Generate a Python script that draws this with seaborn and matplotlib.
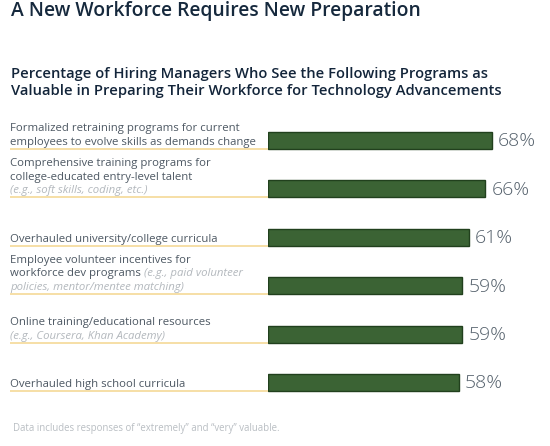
import matplotlib
matplotlib.use("Agg")
import matplotlib.pyplot as plt
import seaborn as sns
import pandas as pd
from matplotlib.transforms import blended_transform_factory

# ---- data ----
programs = [
    "Formalized retraining programs",
    "Comprehensive training programs",
    "Overhauled university/college curricula",
    "Employee volunteer incentives",
    "Online training/educational resources",
    "Overhauled high school curricula",
]
percentages = [68, 66, 61, 59, 59, 58]

label_main = [
    ["Formalized retraining programs for current", "employees to evolve skills as demands change"],
    ["Comprehensive training programs for", "college-educated entry-level talent", ""],
    ["Overhauled university/college curricula"],
    ["Employee volunteer incentives for", "workforce dev programs ", ""],
    ["Online training/educational resources", ""],
    ["Overhauled high school curricula"],
]
label_note = [
    ["", ""],
    ["", "", "(e.g., soft skills, coding, etc.)"],
    [""],
    ["", "(e.g., paid volunteer", "policies, mentor/mentee matching)"],
    ["", "(e.g., Coursera, Khan Academy)"],
    [""],
]

title = "A New Workforce Requires New Preparation"
subtitle = ["Percentage of Hiring Managers Who See the Following Programs as",
            "Valuable in Preparing Their Workforce for Technology Advancements"]
footnote = "Data includes responses of \u201cextremely\u201d and \u201cvery\u201d valuable."

# ---- style ----
sns.set_theme(style="white")
plt.rcParams["font.family"] = ["Open Sans", "DejaVu Sans"]

W, H = 550, 446
fig = plt.figure(figsize=(W / 100, H / 100), dpi=100)
fig.patch.set_facecolor("white")

px_per_unit = 224 / 68.0
ax_left, ax_top, ax_bottom = 268, 116.3, 406.7
xmax = 80
ax = fig.add_axes([ax_left / W, (H - ax_bottom) / H, xmax * px_per_unit / W, (ax_bottom - ax_top) / H])

df = pd.DataFrame({"program": programs, "pct": percentages})
bar_w = 0.35
sns.barplot(data=df, x="pct", y="program", orient="h", color="#3b6334",
            saturation=1, edgecolor="#21401d", linewidth=1.0, width=bar_w, ax=ax)
ax.set_xlim(0, xmax)
ax.set_ylim(len(programs) - 0.5, -0.5)
ax.axis("off")

txt_col = "#4d5863"
note_col = "#b3b8bd"
pct_col = "#55616c"
line_col = "#f6dfa6"

trans = blended_transform_factory(fig.transFigure, ax.transData)
fig.canvas.draw()
renderer = fig.canvas.get_renderer()

for i, v in enumerate(percentages):
    ax.annotate(f"{v}%", xy=(v, i), xytext=(6, -1), textcoords="offset pixels",
                va="center", ha="left", fontsize=14, color=pct_col,
                fontweight="light", annotation_clip=False)
    bottom = i + bar_w / 2
    ax.plot([10 / W, ax_left / W], [bottom, bottom], transform=trans,
            color=line_col, lw=1.4, clip_on=False, solid_capstyle="butt")
    lines = label_main[i]
    notes = label_note[i]
    n = len(lines)
    for j in range(n):
        dy = 4 + (n - 1 - j) * 13.7
        dx = 0
        if lines[j]:
            t = ax.annotate(lines[j], xy=(10 / W, bottom), xycoords=trans,
                            xytext=(0, dy), textcoords="offset pixels",
                            va="baseline", ha="left", fontsize=8.2, color=txt_col,
                            annotation_clip=False)
            dx = t.get_window_extent(renderer).width
        if notes[j]:
            ax.annotate(notes[j], xy=(10 / W, bottom), xycoords=trans,
                        xytext=(dx, dy), textcoords="offset pixels",
                        va="baseline", ha="left", fontsize=8.2, color=note_col,
                        style="italic", annotation_clip=False)

fig.text(11 / W, 1 - 16 / H, title, fontsize=13.9, fontweight="semibold",
         color="#16293d", va="baseline", ha="left")
fig.text(11 / W, 1 - 78 / H, subtitle[0], fontsize=10.6, fontweight="semibold",
         color="#13253a", va="baseline", ha="left")
fig.text(11 / W, 1 - 95 / H, subtitle[1], fontsize=10.6, fontweight="semibold",
         color="#13253a", va="baseline", ha="left")
fig.text(13 / W, 1 - 428 / H, footnote, fontsize=6.9, color="#b9bec3",
         va="center", ha="left")

fig.savefig("out.png", dpi=100, facecolor="white")
